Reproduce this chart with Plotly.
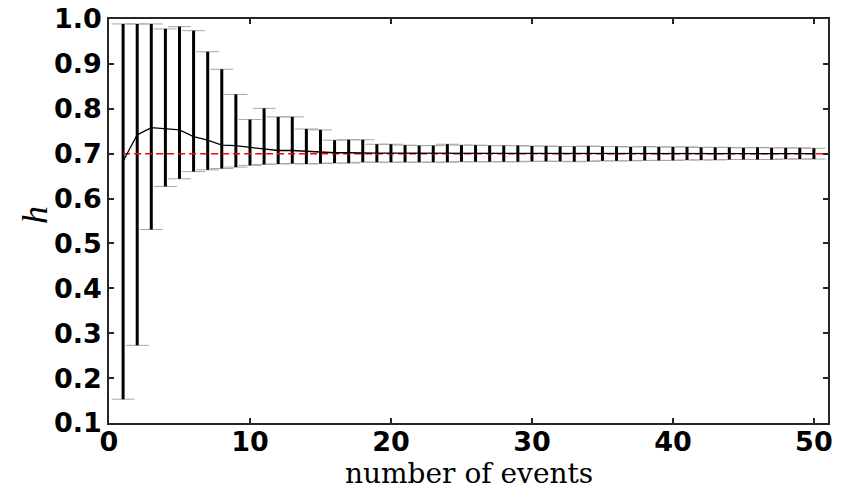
import plotly.graph_objects as go

events = list(range(1, 51))
mean_h = [0.683, 0.742, 0.758, 0.756, 0.753, 0.738, 0.730, 0.719, 0.718, 0.714,
          0.710, 0.707, 0.707, 0.705, 0.703, 0.702, 0.702, 0.701, 0.701, 0.701,
          0.701, 0.701, 0.701, 0.701, 0.701, 0.700, 0.700, 0.700, 0.700, 0.700,
          0.700, 0.700, 0.700, 0.700, 0.700, 0.700, 0.700, 0.700, 0.700, 0.700,
          0.700, 0.700, 0.700, 0.700, 0.700, 0.700, 0.700, 0.700, 0.700, 0.700]
upper_h = [0.989, 0.989, 0.989, 0.978, 0.983, 0.974, 0.927, 0.888, 0.832, 0.776,
           0.801, 0.782, 0.782, 0.755, 0.753, 0.730, 0.731, 0.731, 0.721, 0.721,
           0.719, 0.718, 0.718, 0.721, 0.719, 0.719, 0.718, 0.718, 0.718, 0.717,
           0.717, 0.716, 0.716, 0.717, 0.716, 0.716, 0.715, 0.716, 0.715, 0.715,
           0.715, 0.714, 0.714, 0.714, 0.713, 0.714, 0.713, 0.713, 0.713, 0.712]
lower_h = [0.153, 0.273, 0.531, 0.627, 0.644, 0.660, 0.664, 0.667, 0.670, 0.674,
           0.676, 0.677, 0.678, 0.677, 0.678, 0.679, 0.679, 0.681, 0.681, 0.681,
           0.681, 0.681, 0.681, 0.681, 0.682, 0.682, 0.682, 0.682, 0.682, 0.683,
           0.683, 0.683, 0.682, 0.683, 0.684, 0.684, 0.684, 0.685, 0.685, 0.685,
           0.686, 0.686, 0.686, 0.687, 0.687, 0.687, 0.687, 0.688, 0.688, 0.688]
true_h = 0.7
x_max = 51
x_ticks = [0, 10, 20, 30, 40, 50]
y_ticks = [0.1, 0.2, 0.3, 0.4, 0.5, 0.6, 0.7, 0.8, 0.9, 1.0]
x_title = "number of events"
y_title = "<i>h</i>"

err_plus = [u - m for u, m in zip(upper_h, mean_h)]
err_minus = [m - l for m, l in zip(mean_h, lower_h)]

fig = go.Figure()

# gray thin caps
fig.add_trace(go.Scatter(
    x=events, y=mean_h, mode="markers", marker=dict(size=0.1, color="rgba(0,0,0,0)"),
    error_y=dict(type="data", symmetric=False, array=err_plus, arrayminus=err_minus,
                 color="#a6a6a6", thickness=1, width=11.5),
    hoverinfo="skip"))
# black thick bars
fig.add_trace(go.Scatter(
    x=events, y=mean_h, mode="markers", marker=dict(size=0.1, color="rgba(0,0,0,0)"),
    error_y=dict(type="data", symmetric=False, array=err_plus, arrayminus=err_minus,
                 color="black", thickness=3, width=0),
    hoverinfo="skip"))
# true value, red dashed
fig.add_trace(go.Scatter(
    x=[events[0], x_max], y=[true_h, true_h], mode="lines",
    line=dict(color="red", width=1.5, dash="7px,4px")))
# mean line
fig.add_trace(go.Scatter(
    x=events, y=mean_h, mode="lines", line=dict(color="black", width=1.3)))

axis_common = dict(
    showgrid=False, zeroline=False, showline=True, linecolor="#262626", linewidth=1.5,
    mirror="ticks", ticks="inside", ticklen=5, tickwidth=1.5, tickcolor="#262626",
    automargin=False,
    tickfont=dict(family="DejaVu Sans", size=27, color="black", weight="bold"),
)

fig.update_layout(
    width=850, height=491,
    margin=dict(l=109, r=22, t=19, b=68),
    plot_bgcolor="white", paper_bgcolor="white",
    showlegend=False,
    xaxis=dict(range=[0, x_max], tickvals=x_ticks, ticklabelstandoff=-6, **axis_common),
    yaxis=dict(range=[0.1, 1.0], tickvals=y_ticks, tickformat=".1f", **axis_common),
    annotations=[
        dict(text=x_title, xref="paper", yref="paper", x=0.5, y=-68 / 404,
             xanchor="center", yanchor="bottom", borderpad=0, showarrow=False,
             font=dict(family="DejaVu Serif", size=28, color="black")),
        dict(text=y_title, xref="paper", yref="paper", x=0, y=0.5, textangle=-90,
             xanchor="center", yanchor="middle", xshift=-74, yshift=6, showarrow=False,
             font=dict(family="Liberation Serif", size=36, color="black")),
    ],
)

fig.write_html("out.html")
